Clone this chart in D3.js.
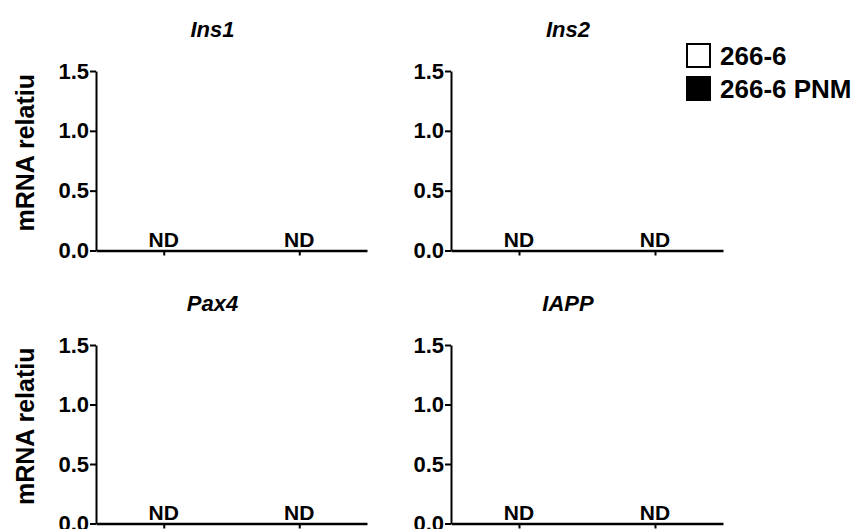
<!DOCTYPE html>
<html>
<head>
<meta charset="utf-8">
<script src="https://cdn.jsdelivr.net/npm/d3@7"></script>
<style>
  body { margin: 0; background: #fff; }
  svg text { font-family: "Liberation Sans", Arial, sans-serif; font-weight: bold; fill: #000; }
</style>
</head>
<body>
<div id="root"></div>
<script>
// data
var genes = ['Ins1', 'Ins2', 'Pax4', 'IAPP']
var groups = ['266-6', '266-6 PNM']
var groupFill = ['#fff', '#000']
// relative mRNA, null = not detected (ND)
var ins1Values = [null, null]
var ins2Values = [null, null]
var pax4Values = [null, null]
var iappValues = [null, null]
var geneValues = [ins1Values, ins2Values, pax4Values, iappValues]
var yTicks = [0, 0.5, 1.0, 1.5]
var yLabel = 'mRNA relatiu'

var width = 856, height = 529
var svg = d3.select('#root').append('svg')
    .attr('width', width)
    .attr('height', height)

// panel layout (left, right, top, bottom of plot area)
var cols = [[96, 367], [451, 723]]
var rows = [[71, 250.5], [345, 523.5]]

genes.forEach(function (gene, i) {
    var c = cols[i % 2], r = rows[Math.floor(i / 2)]
    var Y = d3.scaleLinear().domain([0, 1.5]).range([r[1], r[0]])
    var X = d3.scalePoint().domain(groups).range(c).padding(0.5)
    var bw = 60
    var g = svg.append('g').attr('class', 'panel')

    // bars (only for detected values)
    var vals = geneValues[i].map(function (v, k) { return { grp: groups[k], v: v, k: k } })
    g.selectAll('rect.bar')
        .data(vals.filter(function (d) { return d.v != null }))
        .enter().append('rect')
        .attr('class', 'bar')
        .attr('x', function (d) { return X(d.grp) - bw / 2 })
        .attr('width', bw)
        .attr('y', function (d) { return Y(d.v) })
        .attr('height', function (d) { return Y(0) - Y(d.v) })
        .attr('fill', function (d) { return groupFill[d.k] })
        .attr('stroke', '#000').attr('stroke-width', 2)

    // ND labels
    g.selectAll('text.nd')
        .data(vals.filter(function (d) { return d.v == null }))
        .enter().append('text')
        .attr('class', 'nd')
        .attr('x', function (d) { return X(d.grp) })
        .attr('y', Y(0) - 3.5)
        .attr('text-anchor', 'middle')
        .style('font-size', '21px')
        .text('ND')

    // y axis
    var ya = g.append('g')
        .attr('transform', 'translate(' + c[0] + ',0)')
        .call(d3.axisLeft(Y).tickValues(yTicks).tickFormat(d3.format('.1f')).tickSize(6).tickSizeOuter(0).tickPadding(1))
    ya.select('.domain').attr('stroke-width', 2)
    ya.selectAll('.tick line').attr('stroke-width', 2)
    ya.selectAll('.tick text').style('font-size', '22px').attr('font-family', null)

    // x axis
    var xa = g.append('g')
        .attr('transform', 'translate(0,' + r[1] + ')')
        .call(d3.axisBottom(X).tickSize(5).tickSizeOuter(0).tickFormat(''))
    xa.select('.domain').attr('stroke-width', 2.5)
    xa.selectAll('.tick line').attr('stroke-width', 2)

    // title
    g.append('text')
        .attr('x', (c[0] + c[1]) / 2 - 19)
        .attr('y', r[0] - 34)
        .attr('text-anchor', 'middle')
        .style('font-size', '22px')
        .style('font-style', 'italic')
        .text(gene)

    // y label, left column only
    if (i % 2 === 0) {
        g.append('text')
            .attr('transform', 'translate(34,' + ((r[0] + r[1]) / 2 - 8) + ') rotate(-90)')
            .attr('text-anchor', 'middle')
            .style('font-size', '25px')
            .text(yLabel)
    }
})

// legend
var legend = svg.append('g').attr('class', 'legend')
    .attr('transform', 'translate(687,44)')
var item = legend.selectAll('g')
    .data(groups)
    .enter().append('g')
    .attr('transform', function (d, i) { return 'translate(0,' + (i * 33) + ')' })
item.append('rect')
    .attr('width', 23).attr('height', 23)
    .attr('fill', function (d, i) { return groupFill[i] })
    .attr('stroke', '#000').attr('stroke-width', 2)
item.append('text')
    .attr('x', 33)
    .attr('y', 21)
    .style('font-size', '26px')
    .text(function (d) { return d })
</script>
</body>
</html>
